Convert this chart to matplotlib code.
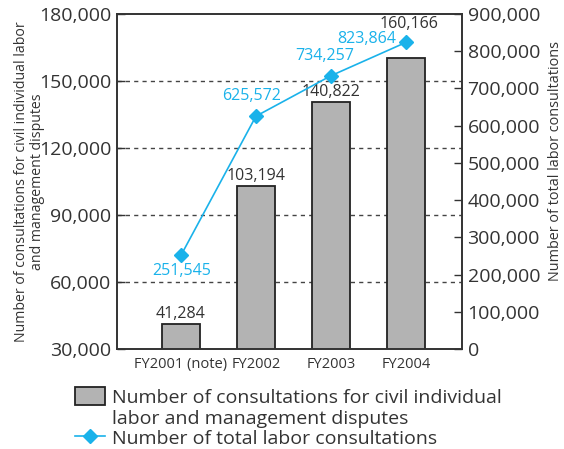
import matplotlib.pyplot as plt
from matplotlib.patches import Patch
from matplotlib.lines import Line2D
from matplotlib.ticker import FuncFormatter

plt.rcParams['font.family'] = ['Open Sans', 'DejaVu Sans']

# data
years = ['FY2001 (note)', 'FY2002', 'FY2003', 'FY2004']
civil_disputes = [41284, 103194, 140822, 160166]
total_consults = [251545, 625572, 734257, 823864]

bar_color = '#b3b3b3'
line_color = '#1ab2ea'
text_color = '#333333'

fig = plt.figure(figsize=(5.64, 4.49), dpi=100)
ax = fig.add_axes([0.2074, 0.2227, 0.6117, 0.746])
ax2 = ax.twinx()

x = list(range(len(years)))
ax.bar(x, civil_disputes, width=0.5, color=bar_color,
       edgecolor='#222222', linewidth=1.3, zorder=2)
ax.set_ylim(30000, 180000)
ax.set_xlim(-0.853, 3.747)
ax.set_yticks([30000, 60000, 90000, 120000, 150000, 180000])
ax.yaxis.set_major_formatter(FuncFormatter(lambda v, p: f'{int(v):,}'))
for yv in [60000, 90000, 120000, 150000]:
    ax.axhline(yv, color='#444444', linestyle=(0, (3, 3)), linewidth=1.0, zorder=1)

# bar value labels (pixel offsets from bar top)
bar_offsets = [(0, 10), (0, 10), (0, 10), (3, 34)]
for xi, v, off in zip(x, civil_disputes, bar_offsets):
    ax.annotate(f'{v:,}', (xi, v), xytext=off, textcoords='offset pixels',
                ha='center', va='center', fontsize=11.5, color=text_color)

ax2.plot(x, total_consults, color=line_color, marker='D',
         markersize=7, linewidth=1.2, zorder=3)
ax2.set_ylim(0, 900000)
ax2.set_yticks(range(0, 900001, 100000))
ax2.yaxis.set_major_formatter(FuncFormatter(lambda v, p: f'{int(v):,}'))

# line value labels
line_offsets = [(1, -16, 'center'), (-4, 20, 'center'),
                (-6, 20, 'center'), (-10, 3, 'right')]
for xi, v, (dx, dy, ha) in zip(x, total_consults, line_offsets):
    ax2.annotate(f'{v:,}', (xi, v), xytext=(dx, dy), textcoords='offset pixels',
                 ha=ha, va='center', fontsize=11.5, color=line_color)

ax.set_xticks(x)
ax.set_xticklabels(years, fontsize=10.5, color=text_color)

for a in (ax, ax2):
    a.tick_params(axis='y', direction='in', length=6, width=1.0,
                  labelsize=14, colors=text_color, pad=4)
    for s in a.spines.values():
        s.set_color('#333333')
        s.set_linewidth(1.2)
ax.tick_params(axis='x', length=0, pad=6)

ax.set_ylabel('Number of consultations for civil individual labor\nand management disputes',
              fontsize=10.2, color=text_color, linespacing=1.15, labelpad=-4.5)
ax2.set_ylabel('Number of total labor consultations', fontsize=10.4,
               color=text_color, labelpad=6)
ax2.yaxis.label.set_y(0.561)

blank = Patch(facecolor='none', edgecolor='none')
handles = [Patch(facecolor=bar_color, edgecolor='#222222', linewidth=1.3),
           blank,
           Line2D([0], [0], color=line_color, marker='D', markersize=7, linewidth=1.2)]
labels = ['Number of consultations for civil individual',
          'labor and management disputes',
          'Number of total labor consultations']
fig.legend(handles, labels, loc='upper left', bbox_to_anchor=(0.115, 0.159),
           frameon=False, fontsize=14, handlelength=1.55, handleheight=1.05,
           handletextpad=0.36, labelspacing=0.05, borderpad=0,
           labelcolor=text_color)

fig.savefig('out.png', dpi=100)
